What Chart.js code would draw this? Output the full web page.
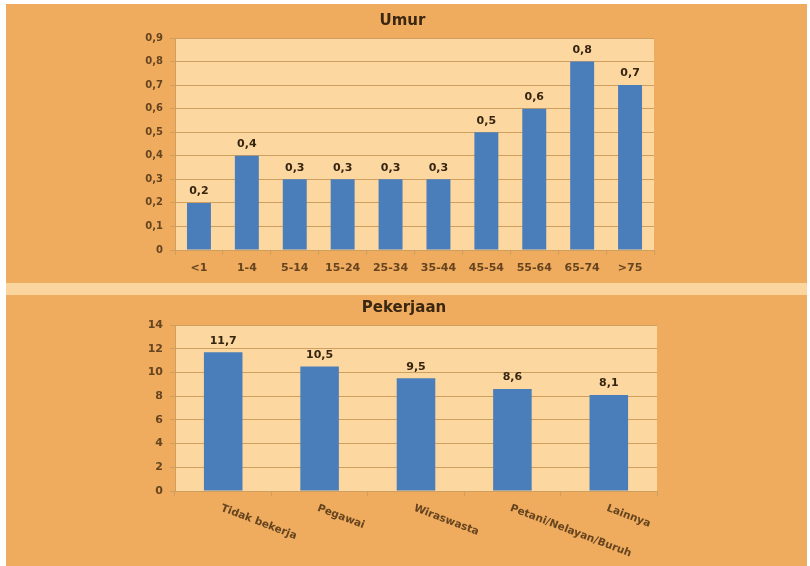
<!DOCTYPE html>
<html>
<head>
<meta charset="utf-8">
<script src="https://cdn.jsdelivr.net/npm/chart.js@4"></script>
<style>
  html, body { margin: 0; padding: 0; background: #ffffff; }
  body { position: relative; width: 810px; height: 566px; overflow: hidden; }
  .panel { position: absolute; left: 6px; width: 801px; background: #efac5f; }
  #panelTop { top: 4px; height: 279px; }
  #strip { position: absolute; left: 6px; width: 801px; top: 283px; height: 12px; background: #fad59e; }
  #panelBottom { top: 295px; height: 271px; }
  canvas { display: block; }
</style>
</head>
<body>
<div class="panel" id="panelTop"><canvas id="umurChart" width="801" height="279"></canvas></div>
<div id="strip"></div>
<div class="panel" id="panelBottom"><canvas id="kerjaChart" width="801" height="271"></canvas></div>
<script>
'use strict';

// data: Umur
var umurLabels = ['<1', '1-4', '5-14', '15-24', '25-34', '35-44', '45-54', '55-64', '65-74', '>75'];
var umurValues = [0.2, 0.4, 0.3, 0.3, 0.3, 0.3, 0.5, 0.6, 0.8, 0.7];
var umurMax = 0.9;
var umurStep = 0.1;

// data: Pekerjaan
var kerjaLabels = ['Tidak bekerja', 'Pegawai', 'Wiraswasta', 'Petani/Nelayan/Buruh', 'Lainnya'];
var kerjaValues = [11.7, 10.5, 9.5, 8.6, 8.1];
var kerjaMax = 14;
var kerjaStep = 2;

var FONT = '"DejaVu Sans", Verdana, sans-serif';
var PLOT_BG = '#fcd7a0';
var GRID = '#cf9f5f';
var BAR = '#4a7ebb';
var TICK_COLOR = '#65441f';
var LABEL_COLOR = '#35240f';
var TITLE_COLOR = '#3b2612';

function koma(v, digits) {
    if (v === 0) return '0';
    return v.toFixed(digits).replace('.', ',');
}

// plot background, title and the values above the bars
var plotDecor = {
    id: 'plotDecor',
    beforeDraw: function(chart) {
        var a = chart.chartArea;
        var ctx = chart.ctx;
        ctx.save();
        ctx.fillStyle = PLOT_BG;
        ctx.fillRect(a.left, a.top, a.right - a.left, a.bottom - a.top);
        ctx.restore();
    },
    afterDatasetsDraw: function(chart, args, opts) {
        var ctx = chart.ctx;
        var a = chart.chartArea;
        var meta = chart.getDatasetMeta(0);
        var data = chart.data.datasets[0].data;
        ctx.save();
        ctx.font = 'bold 11px ' + FONT;
        ctx.fillStyle = LABEL_COLOR;
        ctx.textAlign = 'center';
        ctx.textBaseline = 'bottom';
        meta.data.forEach(function(bar, i) {
            ctx.fillText(koma(data[i], 1), bar.x, bar.y - 6);
        });
        // judul
        ctx.font = 'bold 15px ' + FONT;
        ctx.fillStyle = TITLE_COLOR;
        ctx.textBaseline = 'middle';
        ctx.fillText(opts.title, (a.left + a.right) / 2 - 12, a.top - 17);
        ctx.restore();
    }
};

// slanted category labels for the Pekerjaan chart
var slantLabels = {
    id: 'slantLabels',
    afterDraw: function(chart) {
        var x = chart.scales.x;
        var ctx = chart.ctx;
        ctx.save();
        ctx.font = 'bold 10.5px ' + FONT;
        ctx.fillStyle = TICK_COLOR;
        ctx.textAlign = 'left';
        ctx.textBaseline = 'top';
        chart.data.labels.forEach(function(lbl, i) {
            var px = x.getPixelForTick(i);
            ctx.save();
            ctx.translate(px, x.top + 12);
            ctx.rotate(21 * Math.PI / 180);
            ctx.fillText(lbl, 0, 0);
            ctx.restore();
        });
        ctx.restore();
    }
};

function baseOptions(title, max, step, tickFmt, yFont, xHeight, padding) {
    return {
        responsive: false,
        devicePixelRatio: 1,
        animation: false,
        layout: { padding: padding },
        plugins: {
            legend: { display: false },
            tooltip: { enabled: false },
            title: { display: false },
            plotDecor: { title: title }
        },
        scales: {
            y: {
                min: 0,
                max: max,
                afterFit: function(scale) { scale.width = 169; },
                ticks: {
                    stepSize: step,
                    color: TICK_COLOR,
                    padding: 7,
                    font: { family: FONT, size: yFont, weight: 'bold' },
                    callback: tickFmt
                },
                grid: { color: GRID, tickLength: 5, lineWidth: 1 },
                border: { color: GRID }
            },
            x: {
                afterFit: function(scale) { scale.height = xHeight; },
                grid: { display: true, drawOnChartArea: false, color: GRID, tickLength: 5, offset: true },
                border: { color: GRID },
                ticks: {
                    color: TICK_COLOR,
                    padding: 7,
                    maxRotation: 0,
                    autoSkip: false,
                    font: { family: FONT, size: 11, weight: 'bold' }
                }
            }
        }
    };
}

var umurOpts = baseOptions('Umur', umurMax, umurStep,
    function(v) { return koma(v, 1); }, 10, 33,
    { left: 0, right: 153, top: 34, bottom: 0 });

new Chart(document.getElementById('umurChart'), {
    type: 'bar',
    data: {
        labels: umurLabels,
        datasets: [{
            data: umurValues,
            backgroundColor: BAR,
            borderWidth: 0,
            barPercentage: 0.5,
            categoryPercentage: 1
        }]
    },
    options: umurOpts,
    plugins: [plotDecor]
});

var kerjaOpts = baseOptions('Pekerjaan', kerjaMax, kerjaStep,
    function(v) { return String(v); }, 11, 75,
    { left: 0, right: 150, top: 30, bottom: 0 });
kerjaOpts.scales.x.ticks.display = false;

new Chart(document.getElementById('kerjaChart'), {
    type: 'bar',
    data: {
        labels: kerjaLabels,
        datasets: [{
            data: kerjaValues,
            backgroundColor: BAR,
            borderWidth: 0,
            barPercentage: 0.4,
            categoryPercentage: 1
        }]
    },
    options: kerjaOpts,
    plugins: [plotDecor, slantLabels]
});
</script>
</body>
</html>
